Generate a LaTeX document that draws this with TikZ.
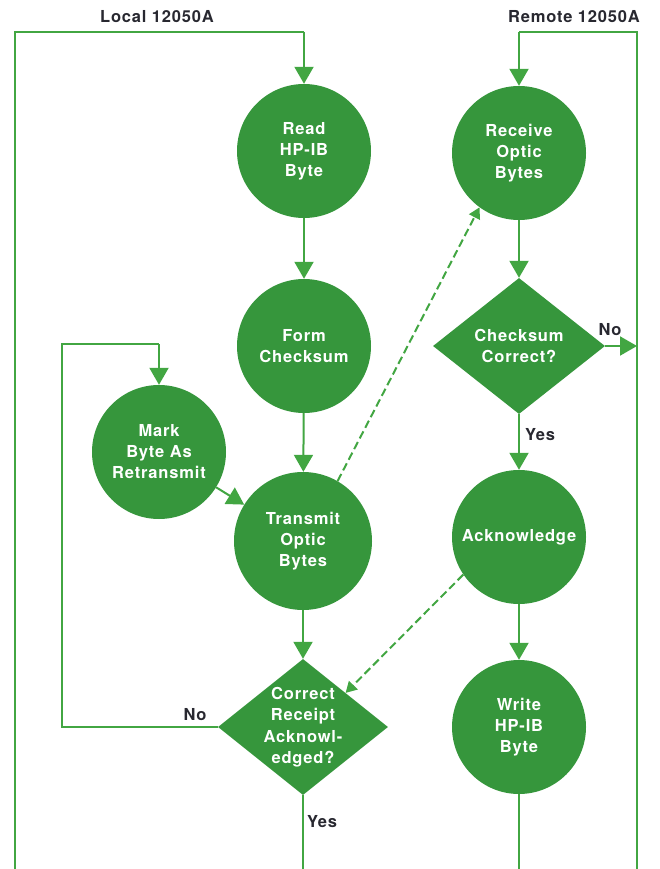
\documentclass[tikz,border=0pt]{standalone}
\usepackage{fontspec}
\setmainfont{TeX Gyre Heros}[LetterSpace=5]
\usetikzlibrary{shapes.geometric,arrows.meta}
\definecolor{hpgreen}{RGB}{54,150,60}
\definecolor{hpline}{RGB}{66,166,66}
\definecolor{labelgray}{RGB}{40,40,48}
\begin{document}
\begin{tikzpicture}[x=1pt,y=-1pt,
  proc/.style={circle,fill=hpgreen,minimum size=134pt,inner sep=0pt,text=white,
    font=\fontsize{16.5}{21}\selectfont\bfseries,align=center},
  dec/.style={diamond,fill=hpgreen,minimum width=172pt,minimum height=136pt,inner sep=0pt},
  dectext/.style={text=white,font=\fontsize{16.5}{21.5}\selectfont\bfseries,align=center,inner sep=0pt},
  link/.style={draw=hpline,line width=2pt},
  flow/.style={link,-{Triangle[width=19pt,length=17pt]}},
  dashflow/.style={link,dash pattern=on 8pt off 4pt,-{Triangle[width=12pt,length=11pt]}},
  lbl/.style={text=labelgray,font=\fontsize{16.5}{20}\selectfont\bfseries,inner sep=0pt}]
\useasboundingbox (0,0) rectangle (659,869);

% labels
\node[lbl] (loc) at (157,17) {Local 12050A};
\node[lbl] (rem) at (574,17) {Remote 12050A};

% nodes
\node[proc] (rd) at (304,151) {Read\\HP-IB\\Byte};
\node[proc] (rc) at (519,153) {Receive\\Optic\\Bytes};
\node[proc] (fc) at (304,346) {Form\\Checksum};
\node[proc] (mk) at (159,452) {Mark\\Byte As\\Retransmit};
\node[proc,minimum size=138pt] (tr) at (303,541) {Transmit\\Optic\\Bytes};
\node[proc] (ack) at (519,537) {Acknowledge};
\node[proc] (wr) at (519,727) {Write\\HP-IB\\Byte};
\node[dec] (cs) at (519,346) {};
\node[dectext] (cst) at (cs.center) {Checksum\\Correct?};
\node[dec,minimum width=170pt] (cr) at (303,727) {};
\node[dectext] (crt) at (cr.center) {Correct\\Receipt\\Acknowl-\\edged?};

% frame coordinates
\coordinate (ltop) at (15,32);
\coordinate (lbot) at (15,869);
\coordinate (lmid) at (304,32);
\coordinate (rtop) at (637,32);
\coordinate (rbot) at (637,869);
\coordinate (rmid) at (519,32);
\coordinate (rno) at (637,346);
\coordinate (crbot) at (303,869);
\coordinate (wrbot) at (519,869);
\coordinate (lpa) at (62,727);
\coordinate (lpb) at (62,344);
\coordinate (lpc) at (159,344);

% local loop
\draw[link] (lbot) -- (ltop) -- (lmid);
\draw[flow] (lmid) -- (rd.north);
\draw[flow] (rd) -- (fc);
\draw[flow] (fc) -- (tr);
\draw[flow] (tr) -- (cr.north);
\draw[flow] (mk) -- (tr);
\draw[link] (cr.west) -- (lpa) -- (lpb) -- (lpc);
\draw[flow] (lpc) -- (mk.north);
\draw[link] (cr.south) -- (crbot);

% remote loop
\draw[link] (rbot) -- (rtop) -- (rmid);
\draw[flow] (rmid) -- (rc.north);
\draw[flow] (rc) -- (cs.north);
\draw[flow] (cs.south) -- (ack.north);
\draw[flow] (cs.east) -- (rno);
\draw[flow] (ack) -- (wr);
\draw[link] (wr.south) -- (wrbot);

% optic links
\draw[dashflow] (tr.60) -- (rc.234);
\draw[dashflow] (ack.214) -- (cr.north east);

% branch labels
\node[lbl] (no1) at (610,330) {No};
\node[lbl] (yes1) at (540,435) {Yes};
\node[lbl] (no2) at (195,715) {No};
\node[lbl] (yes2) at (322,822) {Yes};
\end{tikzpicture}
\end{document}
